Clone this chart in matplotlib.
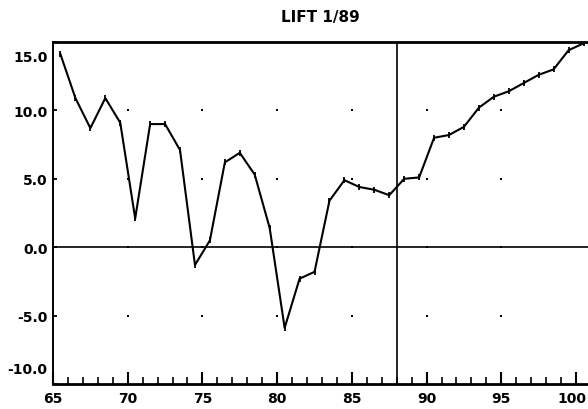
import numpy as np
import matplotlib.pyplot as plt
from matplotlib.transforms import ScaledTranslation

# yearly values, plotted at mid-year
years = np.arange(65.5, 101, 1.0)
lift = [14.1, 10.9, 8.7, 10.9, 9.1, 2.1, 9.0, 9.0, 7.1, -1.3,
        0.5, 6.2, 6.9, 5.3, 1.4, -5.9, -2.3, -1.8, 3.4, 4.9,
        4.4, 4.2, 3.8, 5.0, 5.1, 8.0, 8.2, 8.8, 10.2, 11.0,
        11.4, 12.0, 12.6, 13.0, 14.4, 14.9]

grid_x = [70, 75, 80, 85, 90, 95]
grid_y = [-5, 0, 5, 10]
yticks = [-10, -5, 0, 5, 10, 15]
xticks = [65, 70, 75, 80, 85, 90, 95, 100]
split_year = 88

fig = plt.figure(figsize=(5.88, 4.10), dpi=100)
ax = fig.add_axes([53 / 588, 1 - 385 / 410, 535 / 588, 342 / 410])

gx, gy = np.meshgrid(grid_x, grid_y)
ax.scatter(gx.ravel(), gy.ravel(), s=4, color="black", marker="s", linewidths=0)

ax.axhline(0, color="black", lw=1.2)
ax.axvline(split_year, color="black", lw=1.2)
ax.plot(years, lift, color="black", lw=1.5, marker="|", ms=5, mew=1.3)

ax.set_xlim(65, 100.8)
ax.set_ylim(-10, 15)

for side in ["top", "bottom"]:
    ax.spines[side].set_linewidth(2)
ax.spines["left"].set_linewidth(1.4)
ax.spines["right"].set_visible(False)

ax.set_xticks(xticks)
ax.set_xticks(np.arange(65, 101, 1), minor=True)
ax.set_yticks(yticks)
ax.set_xticklabels([str(v) for v in xticks])
ax.set_yticklabels(["%.1f" % v for v in yticks])
ax.tick_params(axis="x", which="major", direction="in", length=9, width=1.5, pad=5, labelsize=10)
ax.tick_params(axis="x", which="minor", direction="in", length=5, width=1.2)
ax.tick_params(axis="y", direction="in", length=3, width=1.3, pad=4, labelsize=10)
for lab in ax.get_xticklabels() + ax.get_yticklabels():
    lab.set_fontweight("bold")

# end labels of the y axis sit inside the frame
ylabs = ax.get_yticklabels()
ylabs[-1].set_transform(ylabs[-1].get_transform() + ScaledTranslation(0, -14 / 100, fig.dpi_scale_trans))
ylabs[0].set_transform(ylabs[0].get_transform() + ScaledTranslation(0, 16 / 100, fig.dpi_scale_trans))
# keep the last x label inside the picture
xlabs = ax.get_xticklabels()
xlabs[-1].set_transform(xlabs[-1].get_transform() + ScaledTranslation(-4 / 100, 0, fig.dpi_scale_trans))

ax.set_title("LIFT 1/89", fontsize=11, fontweight="bold", pad=15)

fig.savefig("out.png", dpi=100)
